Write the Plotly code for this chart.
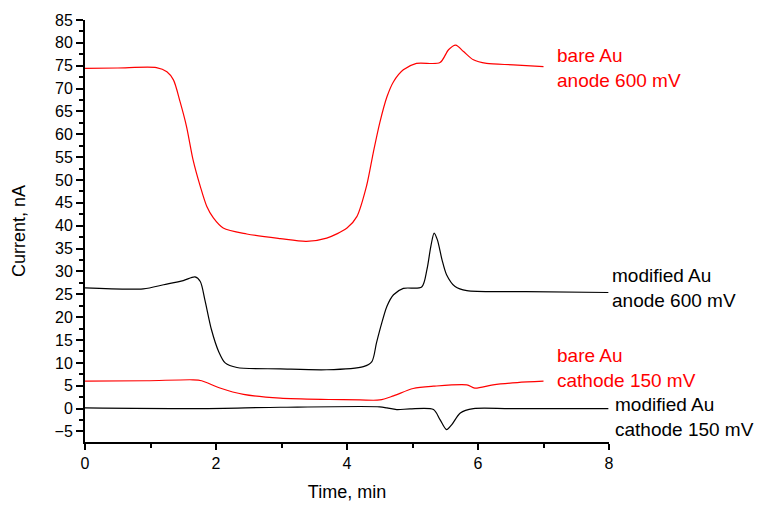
import plotly.graph_objects as go

# ---- data (time in min, current in nA) ----
t_bare_anode = [0, 0.5, 1.09, 1.25, 1.35, 1.45, 1.55, 1.65, 1.76, 1.86, 1.96, 2.11, 2.47, 2.98, 3.38,
                3.69, 4.0, 4.15, 4.30, 4.40, 4.50, 4.61, 4.71, 4.86, 5.06, 5.42, 5.55, 5.66, 5.78,
                5.93, 6.13, 6.54, 7.0]
i_bare_anode = [74.4, 74.5, 74.6, 73.7, 71.9, 67.2, 61.7, 54.4, 48.6, 44.2, 41.7, 39.5, 38.2, 37.2, 36.6,
                37.3, 39.5, 42.0, 48.8, 55.9, 62.5, 68.2, 71.5, 74.1, 75.5, 75.7, 78.5, 79.5, 78.1,
                76.3, 75.5, 75.2, 74.8]

t_mod_anode = [0, 0.89, 1.2, 1.5, 1.68, 1.76, 1.83, 1.93, 2.04, 2.14, 2.32, 2.98, 3.69, 4.25, 4.38,
               4.45, 4.53, 4.61, 4.71, 4.86, 5.14, 5.22, 5.28, 5.33, 5.38, 5.45, 5.52, 5.65, 5.83,
               6.74, 7.99]
i_mod_anode = [26.4, 26.2, 27.1, 28.0, 28.8, 27.8, 23.8, 17.3, 12.5, 10.0, 9.0, 8.7, 8.5, 9.2, 10.3,
               14.4, 18.7, 22.4, 24.9, 26.3, 26.6, 30.4, 35.5, 38.4, 36.9, 32.6, 29.3, 26.7, 25.8,
               25.6, 25.4]

t_bare_cathode = [0, 0.94, 1.65, 1.78, 2.06, 2.42, 2.98, 3.74, 4.2, 4.5, 4.71, 5.01, 5.32, 5.83,
                  5.95, 6.23, 6.6, 7.0]
i_bare_cathode = [6.0, 6.1, 6.3, 6.1, 4.5, 3.1, 2.3, 2.0, 1.9, 1.9, 2.8, 4.4, 4.9, 5.2,
                  4.5, 5.2, 5.7, 6.0]

t_mod_cathode = [0, 1.76, 2.98, 4.5, 4.61, 4.76, 4.96, 5.32, 5.42, 5.52, 5.60, 5.73, 5.93, 6.5, 7.99]
i_mod_cathode = [0.15, 0.0, 0.3, 0.4, 0.15, -0.2, -0.07, -0.2, -2.4, -4.6, -3.5, -0.95, 0.0, 0.0, 0.0]

labels = ["bare Au<br>anode 600 mV", "modified Au<br>anode 600 mV",
          "bare Au<br>cathode 150 mV", "modified Au<br>cathode 150 mV"]
label_t = [7.18, 8.02, 7.18, 8.06]
label_i = [74.4, 26.4, 8.9, -1.8]
colors = ["#ff0000", "#000000", "#ff0000", "#000000"]

x_range = [0, 8]
y_range = [-7.3, 85]

FONT = "Liberation Sans, Arial, sans-serif"

fig = go.Figure()
series = [(t_bare_anode, i_bare_anode), (t_mod_anode, i_mod_anode),
          (t_bare_cathode, i_bare_cathode), (t_mod_cathode, i_mod_cathode)]
for (tx, iy), c in zip(series, colors):
    fig.add_trace(go.Scatter(x=tx, y=iy, mode="lines",
                             line=dict(color=c, width=1.2, shape="spline", smoothing=0.8),
                             showlegend=False, hoverinfo="skip"))

for txt, tx, iy, c in zip(labels, label_t, label_i, colors):
    fig.add_annotation(text=txt, xref="paper", x=(tx - x_range[0]) / (x_range[1] - x_range[0]),
                       yref="y", y=iy, xanchor="left", yanchor="middle", align="left",
                       showarrow=False, font=dict(family=FONT, size=19, color=c))

fig.update_layout(
    width=762, height=506,
    margin=dict(l=85, r=153, t=20, b=64, autoexpand=False),
    plot_bgcolor="white", paper_bgcolor="white",
    font=dict(family=FONT, size=16, color="black"),
)
fig.update_xaxes(range=x_range, dtick=2, tick0=0, showgrid=False, zeroline=False, automargin=False,
                 showline=True, linecolor="black", linewidth=2,
                 ticks="outside", ticklen=6, tickwidth=1.5, tickcolor="black",
                 minor=dict(ticks="outside", ticklen=4, dtick=1, tickcolor="black", tickwidth=1.5, showgrid=False),
                 title=dict(text="Time, min", font=dict(size=18), standoff=14),
                 tickfont=dict(size=16))
fig.update_yaxes(range=y_range, dtick=5, tick0=0, showgrid=False, zeroline=False, automargin=False,
                 showline=True, linecolor="black", linewidth=2,
                 ticks="outside", ticklen=7, tickwidth=1.5, tickcolor="black",
                 minor=dict(ticks="outside", ticklen=4, dtick=2.5, tickcolor="black", tickwidth=1.5, showgrid=False),
                 title=dict(text="Current, nA", font=dict(size=18), standoff=24),
                 tickfont=dict(size=16))

fig.write_html("out.html")
